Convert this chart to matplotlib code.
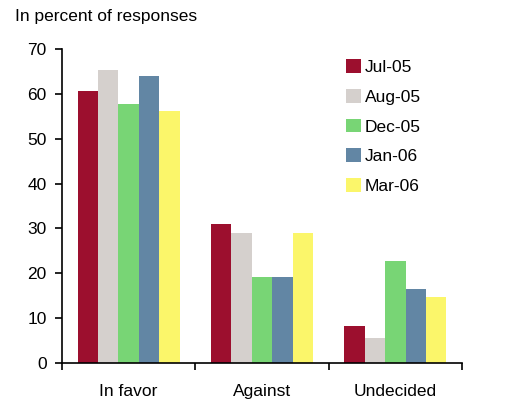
import matplotlib
matplotlib.use("Agg")
import matplotlib.pyplot as plt
import numpy as np

plt.rcParams['font.family'] = ['Liberation Sans', 'DejaVu Sans']

categories = ["In favor", "Against", "Undecided"]
series = ["Jul-05", "Aug-05", "Dec-05", "Jan-06", "Mar-06"]
jul05 = [60.7, 31.0, 8.3]
aug05 = [65.4, 29.0, 5.6]
dec05 = [57.8, 19.2, 22.8]
jan06 = [64.0, 19.2, 16.6]
mar06 = [56.2, 29.0, 14.8]
colors = ["#9C0F2E", "#D5D0CD", "#78D575", "#6286A4", "#FBF66A"]
yticks = [0, 10, 20, 30, 40, 50, 60, 70]

values = [jul05, aug05, dec05, jan06, mar06]

fig = plt.figure(figsize=(5.14, 4.07), dpi=100)
ax = fig.add_axes([62/514, 44/407, 400/514, 314/407])

x = np.arange(len(categories))
w = 0.153
for i, (name, vals, c) in enumerate(zip(series, values, colors)):
    ax.bar(x + (i - 2) * w, vals, width=w, color=c, label=name, linewidth=0)

fs = 12.5
ax.set_xlim(-0.5, 2.5)
ax.set_ylim(0, 70)
ax.set_yticks(yticks)
ax.set_xticks([-0.5, 0.5, 1.5, 2.5])
ax.set_xticklabels([])
ax.set_xticks(x, minor=True)
ax.set_xticklabels(categories, minor=True)
ax.tick_params(axis='x', which='minor', length=0, pad=15, labelsize=fs)
ax.tick_params(axis='x', which='major', length=5, width=1.2, direction='out')
ax.tick_params(axis='y', length=5, width=1.2, direction='out', labelsize=fs, pad=6)
for s in ['top', 'right']:
    ax.spines[s].set_visible(False)
for s in ['left', 'bottom']:
    ax.spines[s].set_linewidth(1.2)

fig.text(15/514, 1 - 16/407, "In percent of responses", fontsize=fs, va='center', ha='left')

leg = ax.legend(loc='upper left', bbox_to_anchor=(346/514, 1 - 59/407),
                bbox_transform=fig.transFigure, frameon=False, fontsize=fs,
                handlelength=0.85, handleheight=0.85, handletextpad=0.25,
                labelspacing=0.8, borderpad=0, borderaxespad=0)

fig.savefig("out.png", dpi=100)
